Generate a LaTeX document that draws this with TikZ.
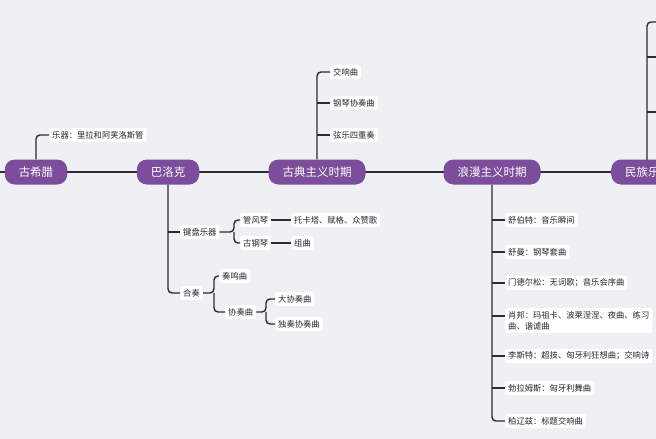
\documentclass[tikz,border=0pt]{standalone}
\usepackage{fontspec}
\setmainfont{Noto Sans CJK SC}
\begin{document}
\begin{tikzpicture}[x=1pt,y=-1pt,
  main/.style={fill=pur,text=white,rounded corners=10pt,minimum height=25pt,inner xsep=14pt,font=\fontsize{11.5}{13}\selectfont},
  leaf/.style={fill=white,rounded corners=2pt,inner sep=3pt,anchor=west,font=\fontsize{8.3}{11}\selectfont,text=black!85},
  ln/.style={draw=lnc,line width=1.4pt,rounded corners=4pt}]
\definecolor{pur}{HTML}{7B4D9A}
\definecolor{lnc}{HTML}{2A2A3A}
\definecolor{bgc}{HTML}{EFF0F4}
\fill[bgc] (0,0) rectangle (656,439);
\useasboundingbox (0,0) rectangle (656,439);
\begin{scope}
\clip (0,0) rectangle (656,439);
\coordinate (L) at (0,172);
\coordinate (R) at (656,172);
\draw[ln] (L) -- (R);
\node[main] (g) at (36,172) {古希腊};
\node[main] (b) at (168,172) {巴洛克};
\node[main] (c) at (317,172) {古典主义时期};
\node[main] (r) at (492,172) {浪漫主义时期};
\node[main,anchor=west] (m) at (611,172) {民族乐派};
% Greek
\node[leaf] (g1) at (49,135) {乐器：里拉和阿芙洛斯管};
\draw[ln] (g.north) |- (g1.west);
% Classical
\node[leaf] (c1) at (330,72) {交响曲};
\node[leaf] (c2) at (330,103) {钢琴协奏曲};
\node[leaf] (c3) at (330,135) {弦乐四重奏};
\draw[ln] (c.north) |- (c1.west);
\draw[ln] (c.north |- c2.west) -- (c2.west);
\draw[ln] (c.north |- c3.west) -- (c3.west);
% Baroque
\node[leaf] (b1) at (180,232) {键盘乐器};
\node[leaf] (b2) at (180,293) {合奏};
\draw[ln] (b.south) |- (b2.west);
\draw[ln] (b.south |- b1.west) -- (b1.west);
\node[leaf] (b11) at (240,220) {管风琴};
\node[leaf] (b12) at (240,243) {古钢琴};
\coordinate (k) at (234,232);
\draw[ln] (b1.east) -- (k) |- (b11.west);
\draw[ln] (k) |- (b12.west);
\node[leaf] (b111) at (291,220) {托卡塔、赋格、众赞歌};
\node[leaf] (b121) at (291,243) {组曲};
\draw[ln] (b11.east) -- (b111.west);
\draw[ln] (b12.east) -- (b121.west);
\node[leaf] (b21) at (219,276) {奏鸣曲};
\node[leaf] (b22) at (225,312) {协奏曲};
\coordinate (h) at (214,293);
\draw[ln] (b2.east) -- (h) |- (b21.west);
\draw[ln] (h) |- (b22.west);
\node[leaf] (b221) at (275,299) {大协奏曲};
\node[leaf] (b222) at (275,324) {独奏协奏曲};
\coordinate (p) at (266,312);
\draw[ln] (b22.east) -- (p) |- (b221.west);
\draw[ln] (p) |- (b222.west);
% Romantic
\node[leaf] (r1) at (505,220) {舒伯特：音乐瞬间};
\node[leaf] (r2) at (505,252) {舒曼：钢琴套曲};
\node[leaf] (r3) at (505,283) {门德尔松：无词歌；音乐会序曲};
\node[leaf,align=left,anchor=north west] (r4) at (505,308) {肖邦：玛祖卡、波莱涅涅、夜曲、练习\\曲、谐谑曲};
\node[leaf] (r5) at (505,356) {李斯特：超技、匈牙利狂想曲；交响诗};
\node[leaf] (r6) at (505,388) {勃拉姆斯：匈牙利舞曲};
\node[leaf] (r7) at (505,421) {柏辽兹：标题交响曲};
\draw[ln] (r.south) |- (r7.west);
\foreach \n in {r1,r2,r3,r5,r6} \draw[ln] (r.south |- \n.west) -- (\n.west);
\coordinate (r4a) at (505,316);
\draw[ln] (r.south |- r4a) -- (r4a);
% National
\coordinate (n1) at (656,22);
\coordinate (n2) at (656,57);
\coordinate (n3) at (656,112);
\draw[ln] (647,160) |- (n1);
\draw[ln] (647,57) -- (n2);
\draw[ln] (647,112) -- (n3);
\end{scope}
\end{tikzpicture}
\end{document}
